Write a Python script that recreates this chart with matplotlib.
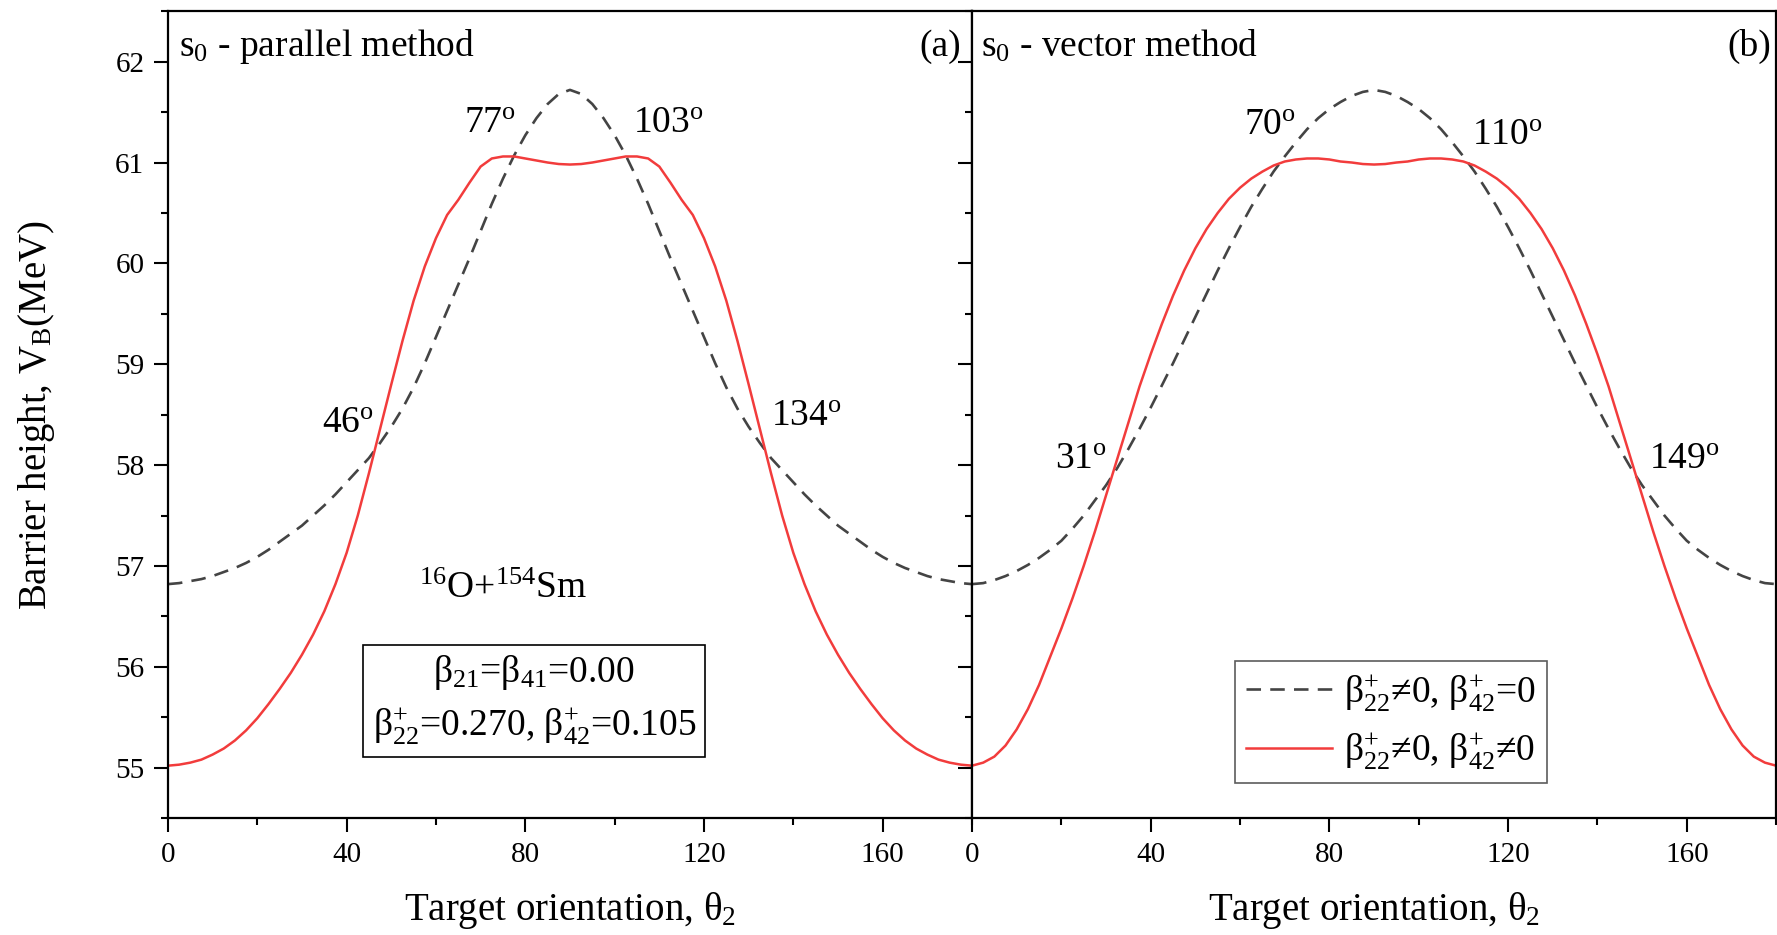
import matplotlib
matplotlib.use("Agg")
import matplotlib.pyplot as plt
from matplotlib.ticker import MultipleLocator

plt.rcParams['font.family'] = ['Liberation Serif', 'DejaVu Serif']
plt.rcParams['mathtext.fontset'] = 'custom'
plt.rcParams['mathtext.rm'] = 'Liberation Serif'
plt.rcParams['mathtext.it'] = 'Liberation Serif:italic'
plt.rcParams['mathtext.bf'] = 'Liberation Serif:bold'

# target orientation theta_2 (deg), 2.5 deg steps
theta = [0, 2.5, 5, 7.5, 10, 12.5, 15, 17.5, 20, 22.5, 25, 27.5, 30, 32.5, 35, 37.5,
         40, 42.5, 45, 47.5, 50, 52.5, 55, 57.5, 60, 62.5, 65, 67.5, 70, 72.5, 75, 77.5,
         80, 82.5, 85, 87.5, 90, 92.5, 95, 97.5, 100, 102.5, 105, 107.5, 110, 112.5,
         115, 117.5, 120, 122.5, 125, 127.5, 130, 132.5, 135, 137.5, 140, 142.5, 145,
         147.5, 150, 152.5, 155, 157.5, 160, 162.5, 165, 167.5, 170, 172.5, 175, 177.5, 180]

# (a) parallel method
vb_par_dash = [56.82, 56.83, 56.85, 56.87, 56.90, 56.94, 56.98, 57.03, 57.09, 57.16,
               57.24, 57.32, 57.40, 57.50, 57.60, 57.71, 57.83, 57.95, 58.07, 58.22,
               58.38, 58.56, 58.77, 59.01, 59.27, 59.53, 59.79, 60.05, 60.32, 60.59,
               60.84, 61.07, 61.27, 61.44, 61.58, 61.68, 61.72,
               61.68, 61.58, 61.44, 61.27, 61.07, 60.84, 60.59, 60.32, 60.05, 59.79,
               59.53, 59.27, 59.01, 58.77, 58.56, 58.38, 58.22, 58.07, 57.95, 57.83,
               57.71, 57.60, 57.50, 57.40, 57.32, 57.24, 57.16, 57.09, 57.03, 56.98,
               56.94, 56.90, 56.87, 56.85, 56.83, 56.82]
vb_par_full = [55.02, 55.03, 55.05, 55.08, 55.13, 55.19, 55.27, 55.37, 55.49, 55.63,
               55.78, 55.94, 56.12, 56.32, 56.55, 56.82, 57.13, 57.50, 57.92, 58.36,
               58.80, 59.23, 59.63, 59.97, 60.25, 60.48, 60.63, 60.80, 60.96, 61.04,
               61.06, 61.06, 61.04, 61.02, 61.00, 60.985, 60.98,
               60.985, 61.00, 61.02, 61.04, 61.06, 61.06, 61.04, 60.96, 60.80, 60.63,
               60.48, 60.25, 59.97, 59.63, 59.23, 58.80, 58.36, 57.92, 57.50, 57.13,
               56.82, 56.55, 56.32, 56.12, 55.94, 55.78, 55.63, 55.49, 55.37, 55.27,
               55.19, 55.13, 55.08, 55.05, 55.03, 55.02]

# (b) vector method
vb_vec_dash = [56.82, 56.83, 56.86, 56.90, 56.95, 57.01, 57.08, 57.16, 57.25, 57.37,
               57.50, 57.65, 57.80, 57.97, 58.16, 58.36, 58.57, 58.79, 59.01, 59.24,
               59.47, 59.70, 59.93, 60.15, 60.36, 60.56, 60.74, 60.91, 61.06, 61.20,
               61.33, 61.44, 61.53, 61.60, 61.66, 61.70, 61.72,
               61.70, 61.66, 61.60, 61.53, 61.44, 61.33, 61.20, 61.06, 60.91, 60.74,
               60.56, 60.36, 60.15, 59.93, 59.70, 59.47, 59.24, 59.01, 58.79, 58.57,
               58.36, 58.16, 57.97, 57.80, 57.65, 57.50, 57.37, 57.25, 57.16, 57.08,
               57.01, 56.95, 56.90, 56.86, 56.83, 56.82]
vb_vec_full = [55.02, 55.05, 55.11, 55.22, 55.38, 55.58, 55.82, 56.10, 56.38, 56.68,
               57.00, 57.34, 57.70, 58.06, 58.42, 58.78, 59.10, 59.40, 59.68, 59.93,
               60.15, 60.34, 60.50, 60.64, 60.75, 60.84, 60.91, 60.97, 61.01, 61.03,
               61.04, 61.04, 61.03, 61.01, 61.00, 60.985, 60.98,
               60.985, 61.00, 61.01, 61.03, 61.04, 61.04, 61.03, 61.01, 60.97, 60.91,
               60.84, 60.75, 60.64, 60.50, 60.34, 60.15, 59.93, 59.68, 59.40, 59.10,
               58.78, 58.42, 58.06, 57.70, 57.34, 57.00, 56.68, 56.38, 56.10, 55.82,
               55.58, 55.38, 55.22, 55.11, 55.05, 55.02]

red = '#f23c3c'
grey = '#444444'
dash = (0, (5.5, 3.5))
fs = 27

fig = plt.figure(figsize=(17.77, 9.35), dpi=100)
ax1 = fig.add_axes([0.0945, 0.125, 0.4525, 0.863])
ax2 = fig.add_axes([0.547, 0.125, 0.4525, 0.863])

for ax in (ax1, ax2):
    ax.set_xlim(0, 180)
    ax.set_ylim(54.5, 62.5)
    ax.xaxis.set_major_locator(MultipleLocator(40))
    ax.xaxis.set_minor_locator(MultipleLocator(20))
    ax.yaxis.set_major_locator(MultipleLocator(1))
    ax.yaxis.set_minor_locator(MultipleLocator(0.5))
    ax.tick_params(which='both', direction='out', width=1.5, labelsize=21, pad=7)
    ax.tick_params(which='major', length=10)
    ax.tick_params(which='minor', length=5)
    for s in ax.spines.values():
        s.set_linewidth(1.6)
    ax.set_xlabel('Target orientation, θ$_2$', fontsize=28, va='center')
    ax.xaxis.set_label_coords(0.5, -0.114)

ax2.tick_params(axis='y', labelleft=False)

ax1.plot(theta, vb_par_dash, ls=dash, color=grey, lw=1.9)
ax1.plot(theta, vb_par_full, color=red, lw=1.8)
l1, = ax2.plot(theta, vb_vec_dash, ls=dash, color=grey, lw=1.9,
               label='β$^{+}_{22}$≠0, β$^{+}_{42}$=0')
l2, = ax2.plot(theta, vb_vec_full, color=red, lw=1.8,
               label='β$^{+}_{22}$≠0, β$^{+}_{42}$≠0')

ax1.set_ylabel('Barrier height, V$_\\mathrm{B}$(MeV)', fontsize=28, va='center')
ax1.yaxis.set_label_coords(-0.164, 0.5)

# panel (a) texts
ax1.text(2.5, 62.15, 's$_0$ - parallel method', fontsize=fs, va='center')
ax1.text(177.5, 62.15, '(a)', fontsize=fs, va='center', ha='right')
ax1.text(72, 61.38, '77$^\\mathrm{o}$', fontsize=fs, ha='center', va='center')
ax1.text(112, 61.38, '103$^\\mathrm{o}$', fontsize=fs, ha='center', va='center')
ax1.text(40.3, 58.41, '46$^\\mathrm{o}$', fontsize=fs, ha='center', va='center')
ax1.text(143, 58.48, '134$^\\mathrm{o}$', fontsize=fs, ha='center', va='center')
ax1.text(75, 56.77, '$^{16}$O+$^{154}$Sm', fontsize=fs, ha='center', va='center')
ax1.text(82, 55.67, 'β$_{21}$=β$_{41}$=0.00\nβ$^{+}_{22}$=0.270, β$^{+}_{42}$=0.105',
         fontsize=fs, ha='center', va='center', linespacing=1.45,
         bbox=dict(boxstyle='square,pad=0.25', fc='white', ec='black', lw=1.2))

# panel (b) texts
ax2.text(2.1, 62.15, 's$_0$ - vector method', fontsize=fs, va='center')
ax2.text(178.9, 62.15, '(b)', fontsize=fs, va='center', ha='right')
ax2.text(66.6, 61.36, '70$^\\mathrm{o}$', fontsize=fs, ha='center', va='center')
ax2.text(119.8, 61.27, '110$^\\mathrm{o}$', fontsize=fs, ha='center', va='center')
ax2.text(24.5, 58.05, '31$^\\mathrm{o}$', fontsize=fs, ha='center', va='center')
ax2.text(159.4, 58.05, '149$^\\mathrm{o}$', fontsize=fs, ha='center', va='center')

leg = ax2.legend(handles=[l1, l2], loc='upper left', bbox_to_anchor=(0.327, 0.195),
                 fontsize=fs, frameon=True, fancybox=False, edgecolor='#333333',
                 handlelength=2.3, handletextpad=0.3, borderpad=0.3,
                 borderaxespad=0, labelspacing=0.45)
leg.get_frame().set_linewidth(1.2)

fig.savefig('out.png', dpi=100)
